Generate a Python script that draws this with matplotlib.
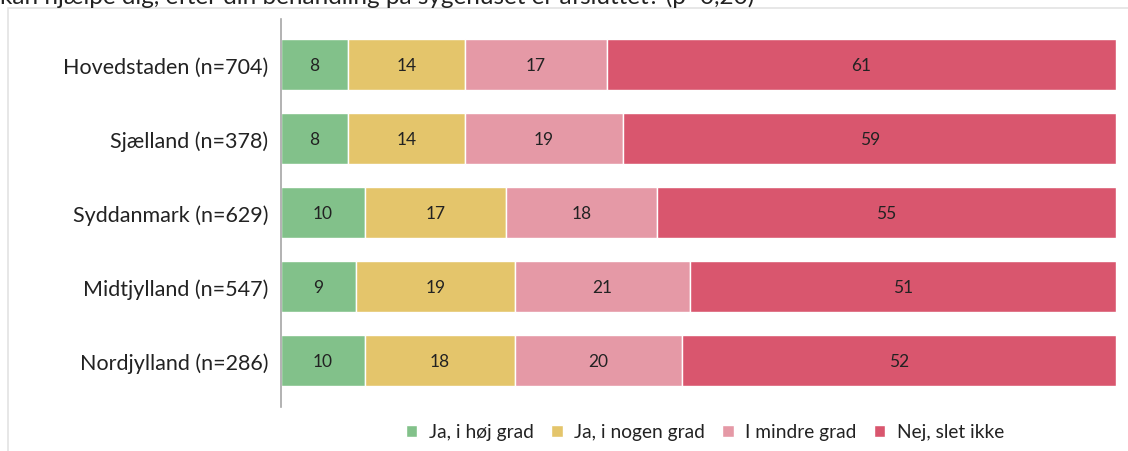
import matplotlib
matplotlib.use("Agg")
import matplotlib.pyplot as plt
from matplotlib.patches import Rectangle
import numpy as np

plt.rcParams['font.family'] = ['Lato', 'DejaVu Sans']

regions = ["Hovedstaden (n=704)", "Sjælland (n=378)", "Syddanmark (n=629)",
           "Midtjylland (n=547)", "Nordjylland (n=286)"]
series_names = ["Ja, i høj grad", "Ja, i nogen grad", "I mindre grad", "Nej, slet ikke"]
ja_hoej = [8, 8, 10, 9, 10]
ja_nogen = [14, 14, 17, 19, 18]
mindre = [17, 19, 18, 21, 20]
nej = [61, 59, 55, 51, 52]
colors = ["#82C18A", "#E4C56B", "#E599A6", "#D9566E"]
title = "kan hjælpe dig, efter din behandling på sygehuset er afsluttet? (p=0,20)"

fig = plt.figure(figsize=(11.28, 4.52), dpi=100)
fig.patches.append(Rectangle((8 / 1128, -0.01), 1.1, 1 - 9 / 452 + 0.01,
                             transform=fig.transFigure, fill=False,
                             edgecolor="#E3E3E3", linewidth=1.2))
fig.text(0.0, 1 - 4 / 452, title, fontsize=17.5, color="#222222",
         ha="left", va="baseline")

ax = fig.add_axes([281 / 1128, 44 / 452, 835 / 1128, 388 / 452])
y = np.arange(len(regions))
left = np.zeros(len(regions))
for vals, name, col in zip([ja_hoej, ja_nogen, mindre, nej], series_names, colors):
    vals = np.array(vals, dtype=float)
    ax.barh(y, vals, left=left, height=0.69, color=col, edgecolor="white",
            linewidth=1.0, label=name)
    for yi, l, v in zip(y, left, vals):
        ax.text(l + v / 2, yi, f"{int(v)}", ha="center", va="center",
                fontsize=12.5, color="#222222")
    left += vals

ax.set_xlim(0, 100)
ax.set_ylim(len(regions) - 1 + 0.628, -0.615)
ax.set_yticks(y)
ax.set_yticklabels(regions, fontsize=15.5, color="#222222")
ax.tick_params(axis="y", length=0, pad=9)
ax.set_xticks([])
for s in ["top", "right", "bottom"]:
    ax.spines[s].set_visible(False)
ax.spines["left"].set_color("#A6A6A6")
ax.spines["left"].set_linewidth(1.2)

handles, labels = ax.get_legend_handles_labels()
leg = fig.legend(handles, labels, loc="center", bbox_to_anchor=(705 / 1128, 1 - 433 / 452),
                 ncol=4, frameon=False, fontsize=13.8, handlelength=0.6,
                 handleheight=0.6, handletextpad=0.6, columnspacing=0.9)
for t in leg.get_texts():
    t.set_color("#222222")

fig.savefig("out.png", dpi=100)
